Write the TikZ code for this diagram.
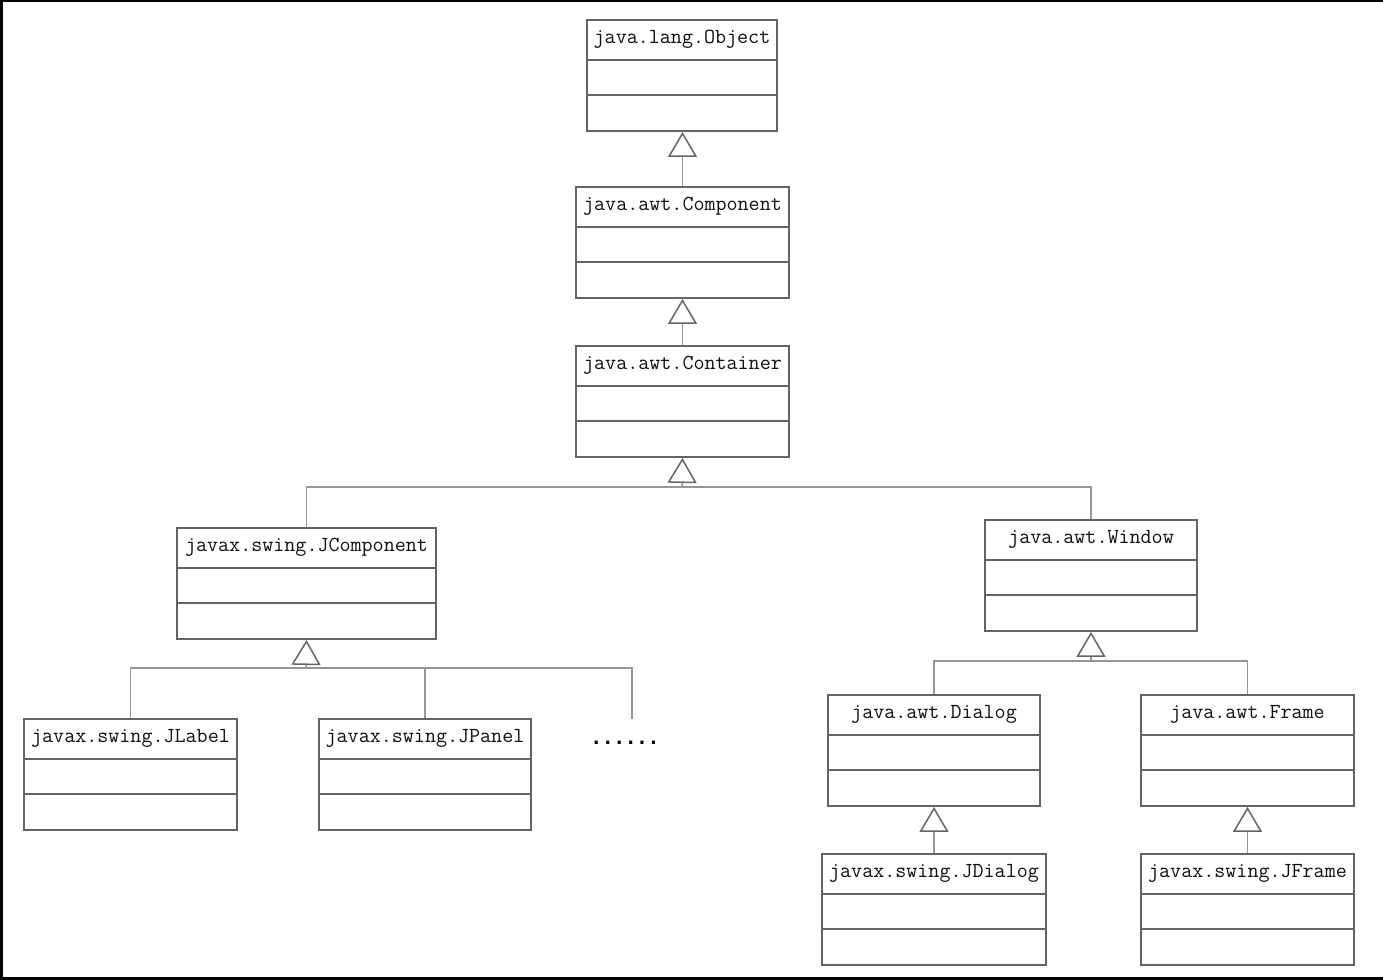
\documentclass[tikz,border=0pt]{standalone}
\usepackage{fontspec}
\newfontfamily\dotfont{DejaVu Sans Mono}
\usetikzlibrary{arrows.meta}
\definecolor{boxc}{RGB}{100,100,100}
\definecolor{linec}{RGB}{150,150,150}
\definecolor{txtc}{RGB}{15,15,15}
\tikzset{
  cls/.style={draw=boxc, line width=1.1pt, rectangle, inner sep=0pt, fill=white},
  divline/.style={draw=boxc, line width=1.1pt},
  txt/.style={text=txtc, font=\ttfamily\fontsize{12.2}{14}\selectfont, inner sep=0pt},
  conn/.style={draw=linec, line width=0.85pt},
  inh/.style={conn, -{Triangle[open, length=0.5cm, width=0.58cm, color=boxc]}},
}
\newcommand\umlclass[6]{%
  \node[cls, minimum width={(#4-#2)*0.02cm}, minimum height={(#5-#3)*0.02cm}] (#1) at ({(#2+#4)/2},{(#3+#5)/2}) {};
  \draw[divline] ([yshift=-0.82cm]#1.north west) -- ([yshift=-0.82cm]#1.north east);
  \draw[divline] ([yshift=-1.52cm]#1.north west) -- ([yshift=-1.52cm]#1.north east);
  \node[txt] (#1-t) at ([yshift=-0.41cm]#1.north) {#6};
}
\begin{document}
\begin{tikzpicture}[x=0.02cm,y=-0.02cm]
\path[use as bounding box] (0,0) rectangle (1383,980);
\fill[black] (0,0) rectangle (3,980);
\fill[black] (0,0) rectangle (1383,2);
\fill[black] (0,977) rectangle (1383,980);

\umlclass{obj}{587}{20}{777}{131}{java.lang.Object}
\umlclass{comp}{576}{187}{789}{298}{java.awt.Component}
\umlclass{cont}{576}{346}{789}{457}{java.awt.Container}
\umlclass{jcomp}{177}{528}{436}{639}{javax.swing.JComponent}
\umlclass{win}{985}{520}{1197}{631}{java.awt.Window}
\umlclass{jlabel}{24}{719}{237}{830}{javax.swing.JLabel}
\umlclass{jpanel}{319}{719}{531}{830}{javax.swing.JPanel}
\umlclass{dialog}{828}{695}{1040}{806}{java.awt.Dialog}
\umlclass{frame}{1141}{695}{1354}{806}{java.awt.Frame}
\umlclass{jdialog}{822}{854}{1046}{965}{javax.swing.JDialog}
\umlclass{jframe}{1141}{854}{1354}{965}{javax.swing.JFrame}

\coordinate (j1) at (682,487);
\coordinate (j2) at (306,668);
\coordinate (j3) at (1091,661);
\coordinate (more) at (632,719);
\node[txt, text=black, font=\dotfont\bfseries\fontsize{10.8}{12}\selectfont] (dots) at (625,743) {......};

\draw[inh] (comp.north) -- (comp.north |- obj.south);
\draw[inh] (cont.north) -- (cont.north |- comp.south);
\draw[conn] (jcomp.north) |- (j1) -| (win.north);
\draw[inh] (j1) -- (cont.south);
\draw[conn] (jlabel.north) |- (j2) -| (more);
\draw[conn] (jpanel.north) -- (jpanel.north |- j2);
\draw[inh] (j2) -- (jcomp.south);
\draw[conn] (dialog.north) |- (j3) -| (frame.north);
\draw[inh] (j3) -- (win.south);
\draw[inh] (jdialog.north) -- (jdialog.north |- dialog.south);
\draw[inh] (jframe.north) -- (jframe.north |- frame.south);
\end{tikzpicture}
\end{document}
